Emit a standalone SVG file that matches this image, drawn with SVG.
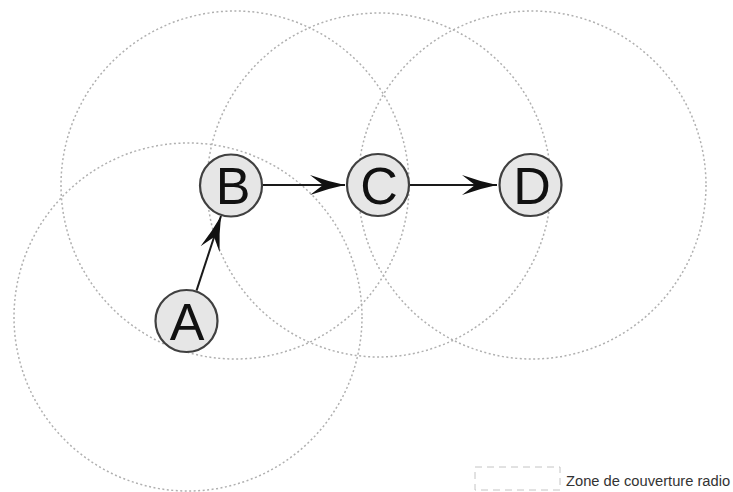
<svg xmlns="http://www.w3.org/2000/svg" width="733" height="492" viewBox="0 0 733 492">
<style>
.zone{fill:none;stroke:#b0b0b0;stroke-width:1.5;stroke-dasharray:2 2.5}
.node{fill:#e6e6e6;stroke:#404040;stroke-width:2.2}
.lbl{font-family:"Liberation Sans",Arial,sans-serif;font-size:52px;fill:#111;text-anchor:middle}
.edge{fill:none;stroke:#1a1a1a;stroke-width:2}
.legend{fill:none;stroke:#c4c4c4;stroke-width:1;stroke-dasharray:7 5}
.ltxt{font-family:"Liberation Sans",Arial,sans-serif;font-size:14.7px;fill:#333}
</style>
<defs>
<marker id="arr" markerUnits="userSpaceOnUse" markerWidth="36" markerHeight="22" viewBox="0 0 36 22" refX="35" refY="11" orient="auto">
<path d="M35,11 Q18,7.5 0,1 L13,11 L0,21 Q18,14.5 35,11 Z" fill="#111"/>
</marker>
</defs>
<rect width="733" height="492" fill="#fff"/>
<g id="zones">
<circle class="zone" cx="188" cy="317" r="174"/>
<circle class="zone" cx="235" cy="185" r="174"/>
<circle class="zone" cx="379" cy="185" r="172"/>
<circle class="zone" cx="532" cy="185" r="174"/>
</g>
<g id="connectors">
<line class="edge" x1="196.5" y1="290.6" x2="221" y2="216" marker-end="url(#arr)"/>
<line class="edge" x1="263" y1="185" x2="345" y2="185" marker-end="url(#arr)"/>
<line class="edge" x1="410" y1="185" x2="497" y2="185" marker-end="url(#arr)"/>
</g>
<g id="node-A">
<circle class="node" cx="186.5" cy="321" r="31"/>
<text class="lbl" x="187" y="339.5">A</text>
</g>
<g id="node-B">
<circle class="node" cx="231" cy="185.5" r="31"/>
<text class="lbl" x="233" y="204">B</text>
</g>
<g id="node-C">
<circle class="node" cx="378" cy="185" r="31"/>
<text class="lbl" x="379" y="203.5">C</text>
</g>
<g id="node-D">
<circle class="node" cx="530.5" cy="185" r="31"/>
<text class="lbl" x="532" y="203.5">D</text>
</g>
<g id="legend">
<rect class="legend" x="475" y="467" width="85" height="23"/>
<text class="ltxt" x="566" y="486">Zone de couverture radio</text>
</g>
</svg>
